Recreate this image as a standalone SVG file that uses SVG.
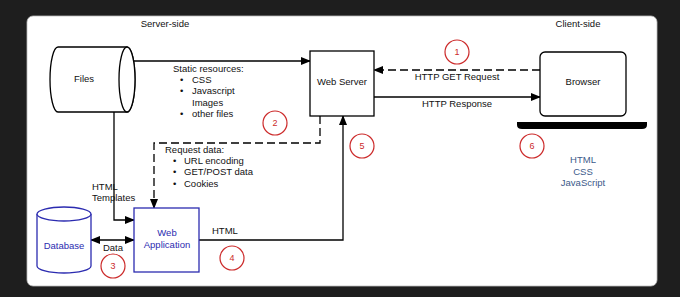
<svg xmlns="http://www.w3.org/2000/svg" width="680" height="297" viewBox="0 0 680 297">
<defs>
<marker id="ah" markerWidth="10" markerHeight="8" refX="9" refY="4" orient="auto" markerUnits="userSpaceOnUse">
<path d="M0,0 L10,4 L0,8 Z" fill="#000"/>
</marker>
<marker id="ahs" markerWidth="10" markerHeight="8" refX="1" refY="4" orient="auto" markerUnits="userSpaceOnUse">
<path d="M10,0 L0,4 L10,8 Z" fill="#000"/>
</marker>
<style>
text{font-family:"Liberation Sans",Arial,sans-serif;font-size:9.5px;fill:#111}
.c{text-anchor:middle}
.blue{fill:#2b2bb0}
.grey{fill:#3c5a8a}
.shape{fill:#fff;stroke:#000;stroke-width:1.3}
.bshape{fill:#fff;stroke:#2b2bb0;stroke-width:1.3}
.ln{fill:none;stroke:#000;stroke-width:1.3}
.dash{stroke-dasharray:8,4}
.num circle{fill:none;stroke:#cc2a2a;stroke-width:1.2}
.num text{fill:#cc2a2a;font-size:9px;text-anchor:middle}
</style>
</defs>
<rect x="0" y="0" width="680" height="297" fill="#1e1e1e"/>
<rect x="27" y="16" width="630" height="270" rx="6" fill="#fff" stroke="#bbb" stroke-width="0.8"/>
<text class="c" x="165" y="27">Server-side</text>
<text class="c" x="578" y="27">Client-side</text>

<g id="connectors">
<line class="ln" x1="134" y1="61" x2="310" y2="61" marker-end="url(#ah)"/>
<line class="ln dash" x1="540" y1="70" x2="374" y2="70" marker-end="url(#ah)"/>
<line class="ln" x1="374" y1="97" x2="540" y2="97" marker-end="url(#ah)"/>
<polyline class="ln dash" points="320,116 320,143 154,143 154,208" marker-end="url(#ah)"/>
<polyline class="ln" points="114,112 114,220 134,220" marker-end="url(#ah)"/>
<line class="ln" x1="91" y1="240" x2="134" y2="240" marker-start="url(#ahs)" marker-end="url(#ah)"/>
<polyline class="ln" points="199,240 343,240 343,116" marker-end="url(#ah)"/>
</g>

<g id="labels">
<text x="173" y="72">Static resources:</text>
<text x="180" y="83">•</text><text x="192" y="83">CSS</text>
<text x="180" y="94">•</text><text x="192" y="94">Javascript</text>
<text x="192" y="106">Images</text>
<text x="180" y="117">•</text><text x="192" y="117">other files</text>
<text x="165" y="153">Request data:</text>
<text x="173" y="164">•</text><text x="184" y="164">URL encoding</text>
<text x="173" y="175">•</text><text x="184" y="175">GET/POST data</text>
<text x="173" y="187">•</text><text x="184" y="187">Cookies</text>
<text x="92" y="190">HTML</text>
<text x="92" y="201">Templates</text>
<text class="c" x="113" y="251">Data</text>
<text x="212" y="234">HTML</text>
<text class="c" x="457" y="80">HTTP GET Request</text>
<text class="c" x="457" y="107">HTTP Response</text>
</g>

<g id="files">
<path class="shape" d="M58,47 H127 A8,32.5 0 0 1 127,112 H58 A8,32.5 0 0 1 58,47 Z"/>
<ellipse class="shape" cx="127" cy="79.5" rx="8" ry="32.5"/>
<text class="c" x="84" y="82">Files</text>
</g>

<g id="web-server">
<rect class="shape" x="310" y="51" width="64" height="65"/>
<text class="c" x="342" y="85">Web Server</text>
</g>

<g id="browser">
<rect class="shape" x="540" y="52" width="86" height="64" rx="5"/>
<text class="c" x="583" y="85">Browser</text>
<path d="M517,122 H647 V125 Q647,129 642,129 H522 Q517,129 517,125 Z" fill="#000"/>
</g>

<g id="client-tech">
<text class="c grey" x="583" y="163">HTML</text>
<text class="c grey" x="583" y="175">CSS</text>
<text class="c grey" x="583" y="186">JavaScript</text>
</g>

<g id="database">
<path class="bshape" d="M37,214 V266 A27,7 0 0 0 91,266 V214"/>
<ellipse class="bshape" cx="64" cy="214" rx="27" ry="7"/>
<text class="c blue" x="64" y="249">Database</text>
</g>

<g id="web-application">
<rect class="bshape" x="134" y="208" width="65" height="64"/>
<text class="c blue" x="167" y="236">Web</text>
<text class="c blue" x="167" y="248">Application</text>
</g>

<g id="steps">
<g class="num"><circle cx="457" cy="52" r="12"/><text x="457" y="55">1</text></g>
<g class="num"><circle cx="275" cy="123" r="12"/><text x="275" y="126">2</text></g>
<g class="num"><circle cx="113" cy="266" r="12"/><text x="113" y="269">3</text></g>
<g class="num"><circle cx="232" cy="258" r="12"/><text x="232" y="261">4</text></g>
<g class="num"><circle cx="362" cy="146" r="12"/><text x="362" y="149">5</text></g>
<g class="num"><circle cx="532" cy="146" r="12"/><text x="532" y="149">6</text></g>
</g>
</svg>
